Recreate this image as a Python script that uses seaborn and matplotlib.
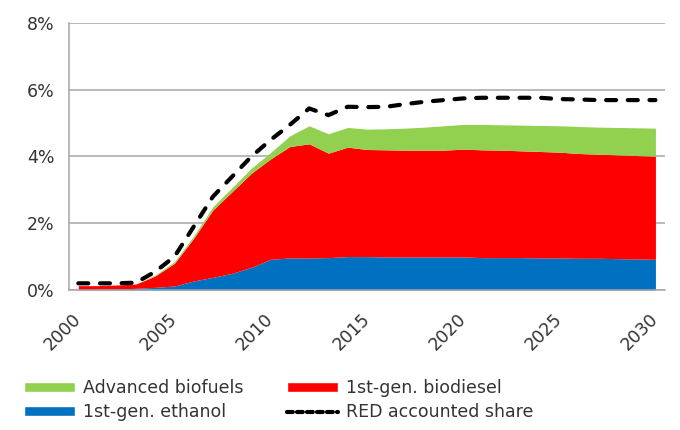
import numpy as np
import matplotlib
matplotlib.use("Agg")
import matplotlib.pyplot as plt
import seaborn as sns
from matplotlib.patches import Patch
from matplotlib.lines import Line2D

years = list(range(2000, 2031))

# shares in % of transport energy
ethanol = [0.02, 0.02, 0.03, 0.05, 0.08, 0.12, 0.27, 0.38, 0.50, 0.68, 0.92,
           0.96, 0.96, 0.97, 1.00, 1.00, 0.99, 0.99, 0.99, 0.99, 0.99,
           0.97, 0.97, 0.97, 0.96, 0.96, 0.95, 0.95, 0.94, 0.93, 0.92]
biodiesel = [0.11, 0.11, 0.12, 0.13, 0.34, 0.68, 1.28, 2.02, 2.45, 2.82, 3.01,
             3.34, 3.42, 3.13, 3.28, 3.21, 3.21, 3.20, 3.20, 3.20, 3.23,
             3.23, 3.22, 3.20, 3.19, 3.17, 3.14, 3.12, 3.11, 3.10, 3.09]
advanced = [0.00, 0.00, 0.00, 0.00, 0.03, 0.05, 0.07, 0.10, 0.12, 0.15, 0.19,
            0.32, 0.54, 0.58, 0.59, 0.61, 0.63, 0.66, 0.69, 0.73, 0.74,
            0.76, 0.76, 0.77, 0.78, 0.79, 0.81, 0.81, 0.82, 0.83, 0.84]
red_share = [0.20, 0.20, 0.20, 0.22, 0.55, 1.00, 1.90, 2.80, 3.40, 4.00, 4.50,
             4.95, 5.44, 5.24, 5.49, 5.48, 5.49, 5.57, 5.64, 5.69, 5.74,
             5.76, 5.76, 5.76, 5.76, 5.72, 5.71, 5.69, 5.69, 5.69, 5.69]

label_years = [2000, 2005, 2010, 2015, 2020, 2025, 2030]

c_green = "#92D050"
c_red = "#FF0000"
c_blue = "#0070C0"
txt = "#333333"
axis_gray = "#A6A6A6"

sns.set_style("white")
plt.rcParams["font.family"] = ["DejaVu Sans"]

fig = plt.figure(figsize=(6.8, 4.3), dpi=100)
ax = fig.add_axes([0.101, 0.3256, 0.877, 0.6209])

ax.stackplot(years, ethanol, biodiesel, advanced,
             colors=[c_blue, c_red, c_green], linewidth=0, zorder=2)
sns.lineplot(x=years, y=red_share, ax=ax, color="black", linewidth=3,
             dashes=False, zorder=3, legend=False)
ax.lines[-1].set_dashes((2.4, 2.8))
ax.lines[-1].set_dash_capstyle("round")

ax.set_xlim(1999.5, 2030.5)
ax.set_ylim(0, 8)
ax.set_yticks([0, 2, 4, 6, 8])
ax.set_yticklabels([f"{v}%" for v in [0, 2, 4, 6, 8]])
ax.grid(True, axis="y", color=axis_gray, linewidth=1.1, zorder=0)
ax.set_axisbelow(True)

# category boundaries get the tick marks, labels sit at every 5th year
ax.set_xticks(np.arange(1999.5, 2031, 1), minor=True)
ax.set_xticks(label_years)
ax.set_xticklabels([str(y) for y in label_years], rotation=45,
                   ha="right", va="center", rotation_mode="anchor")
ax.tick_params(axis="x", which="major", length=0, pad=19,
               labelsize=12.5, labelcolor=txt)
ax.tick_params(axis="x", which="minor", length=5, width=1.1,
               color=axis_gray, direction="out")
ax.tick_params(axis="y", length=6, width=1.1, color=axis_gray,
               direction="out", labelsize=12.5, labelcolor=txt, pad=4)

for side in ["top", "right"]:
    ax.spines[side].set_visible(False)
for side in ["left", "bottom"]:
    ax.spines[side].set_color(axis_gray)
    ax.spines[side].set_linewidth(1.1)

handles = [
    Patch(facecolor=c_green, label="Advanced biofuels"),
    Patch(facecolor=c_blue, label="1st-gen. ethanol"),
    Patch(facecolor=c_red, label="1st-gen. biodiesel"),
    Line2D([], [], color="black", linewidth=3, dashes=(1.4, 1.0),
           dash_capstyle="round", label="RED accounted share"),
]
leg = fig.legend(handles=handles, ncol=2, loc="upper left",
                 bbox_to_anchor=(0.036, 0.118), frameon=False,
                 fontsize=12.5, handlelength=2.9, handleheight=0.55,
                 handletextpad=0.45, columnspacing=2.55, labelspacing=0.35,
                 borderaxespad=0, borderpad=0)
for t in leg.get_texts():
    t.set_color(txt)

fig.savefig("out.png", dpi=100)
